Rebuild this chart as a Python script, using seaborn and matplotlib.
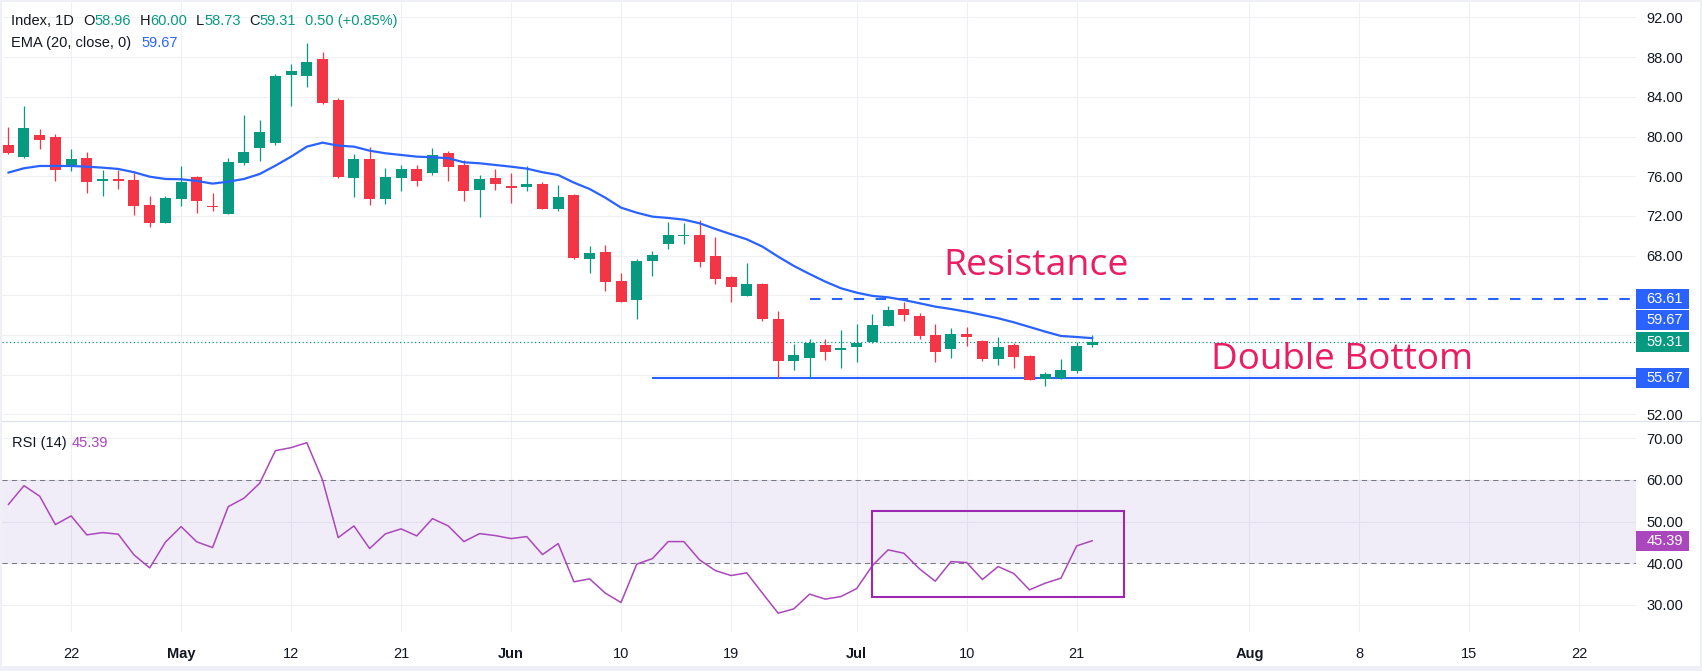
import numpy as np
import pandas as pd
import matplotlib
matplotlib.use('Agg')
from matplotlib import pyplot as plt
from matplotlib.patches import Rectangle
import seaborn as sns

# daily candles, 70 sessions
opens = [79.15, 77.91, 80.16, 79.95, 77.13, 77.84, 75.55, 75.65, 75.62, 73.10,
         71.31, 73.73, 75.92, 72.90, 72.22, 77.36, 78.88, 79.38, 86.23, 86.13,
         87.82, 83.68, 75.85, 77.74, 73.73, 75.85, 76.73, 76.32, 78.34, 77.13,
         74.64, 75.82, 75.01, 74.94, 75.22, 72.70, 74.11, 67.69, 68.36, 65.44,
         63.55, 67.48, 69.20, 69.95, 70.07, 67.96, 65.84, 63.96, 65.14, 61.61,
         57.40, 57.71, 58.99, 58.50, 58.81, 59.32, 60.93, 62.62, 61.91, 59.99,
         58.61, 60.09, 59.39, 57.60, 58.99, 57.88, 55.59, 55.69, 56.36, 58.96]
highs = [80.96, 83.08, 80.76, 80.23, 78.74, 78.41, 76.63, 76.63, 76.29, 74.01,
         74.01, 77.03, 76.05, 74.31, 77.84, 82.17, 81.66, 86.30, 87.31, 89.43,
         88.52, 83.85, 78.24, 78.98, 76.86, 77.13, 77.17, 78.84, 78.54, 77.64,
         76.12, 76.73, 76.32, 77.03, 75.42, 75.12, 74.21, 68.97, 69.07, 66.24,
         67.66, 68.46, 71.39, 71.28, 71.59, 69.87, 65.94, 67.25, 65.24, 62.41,
         59.09, 59.59, 59.59, 60.50, 61.10, 62.11, 62.92, 63.32, 62.18, 61.10,
         60.70, 60.80, 59.49, 59.79, 59.16, 58.01, 56.26, 57.57, 59.29, 60.00]
lows = [78.21, 77.80, 78.77, 75.55, 76.56, 74.34, 74.04, 74.71, 72.12, 70.91,
        71.25, 73.03, 72.32, 72.52, 72.15, 77.10, 77.56, 79.18, 83.11, 85.02,
        83.25, 75.85, 73.94, 73.13, 73.20, 74.51, 75.04, 76.12, 75.55, 73.53,
        71.92, 74.61, 73.33, 74.54, 72.65, 72.49, 67.66, 66.27, 64.46, 63.30,
        61.64, 65.97, 68.69, 69.20, 66.88, 65.17, 63.35, 63.90, 61.44, 55.69,
        56.50, 55.79, 57.50, 56.70, 57.30, 59.16, 60.85, 61.44, 59.56, 57.30,
        57.71, 58.92, 57.40, 57.00, 56.70, 55.43, 54.88, 55.59, 56.19, 58.73]
closes = [78.37, 80.86, 79.68, 76.66, 77.74, 75.45, 75.69, 75.55, 73.03, 71.31,
          73.80, 75.45, 73.53, 72.85, 77.43, 78.44, 80.46, 86.10, 86.64, 87.51,
          83.41, 75.92, 77.74, 73.73, 75.92, 76.73, 75.52, 78.14, 76.96, 74.54,
          75.72, 75.25, 74.84, 75.22, 72.70, 73.91, 67.76, 68.26, 65.37, 63.35,
          67.45, 68.06, 70.07, 70.05, 67.38, 65.67, 64.86, 65.14, 61.64, 57.40,
          57.98, 59.19, 58.31, 58.60, 59.19, 61.00, 62.51, 62.04, 59.92, 58.31,
          60.09, 59.82, 57.60, 58.78, 57.81, 55.49, 56.06, 56.47, 58.89, 59.31]
ema20 = [76.36, 76.80, 77.03, 77.03, 77.03, 76.96, 76.86, 76.73, 76.40, 75.95,
         75.72, 75.69, 75.52, 75.25, 75.45, 75.72, 76.22, 77.06, 77.97, 78.98,
         79.38, 79.08, 78.98, 78.57, 78.31, 78.14, 77.97, 77.91, 77.81, 77.40,
         77.30, 77.13, 76.96, 76.76, 76.40, 76.12, 75.35, 74.71, 73.83, 72.83,
         72.32, 71.92, 71.79, 71.62, 71.25, 70.68, 70.15, 69.64, 68.90, 67.89,
         66.95, 66.14, 65.37, 64.70, 64.26, 63.93, 63.79, 63.52, 63.19, 62.85,
         62.61, 62.34, 62.01, 61.68, 61.27, 60.80, 60.33, 59.89, 59.79, 59.67]
rsi14 = [54.05, 58.60, 56.07, 49.26, 51.34, 46.79, 47.34, 46.95, 41.99, 38.87,
         45.04, 48.78, 45.11, 43.75, 53.57, 55.59, 59.18, 67.00, 67.73, 68.92,
         59.98, 46.14, 48.94, 43.51, 47.03, 48.23, 46.55, 50.70, 48.94, 45.18,
         47.10, 46.62, 45.90, 46.38, 42.06, 44.70, 35.52, 36.24, 32.80, 30.56,
         39.76, 41.10, 45.18, 45.18, 40.79, 38.23, 37.03, 37.67, 32.80, 28.00,
         29.04, 32.57, 31.37, 31.99, 33.91, 39.43, 43.19, 42.39, 38.63, 35.68,
         40.38, 40.14, 36.07, 39.19, 37.51, 33.60, 35.20, 36.40, 44.15, 45.39]

tick_pos = [4, 11, 18, 25, 32, 39, 46, 54, 61, 68, 79, 86, 93, 100]
tick_lab = ['22', 'May', '12', '21', 'Jun', '10', '19', 'Jul', '10', '21', 'Aug', '8', '15', '22']
months = ['May', 'Jun', 'Jul', 'Aug']
price_ticks = [52, 56, 60, 64, 68, 72, 76, 80, 84, 88, 92]
hidden_ticks = [56, 60, 64]   # covered by the value tags
rsi_ticks = [30, 40, 50, 60, 70]

support = 55.67
resistance = 63.61
last_close = 59.31
last_ema = 59.67
last_rsi = 45.39

GREEN = '#089981'
RED = '#f23645'
BLUE = '#2962ff'
PURPLE = '#ab47bc'
TXT = '#131722'
GRID = '#eef0f4'
FONT = 'Liberation Sans'

df = pd.DataFrame({'open': opens, 'high': highs, 'low': lows, 'close': closes,
                   'ema': ema20, 'rsi': rsi14})
df['i'] = np.arange(len(df))

sns.set_style('white')
plt.rcParams['font.family'] = [FONT, 'DejaVu Sans']

W, H = 1702, 671
fig = plt.figure(figsize=(W / 100, H / 100), dpi=100)
fig.patch.set_facecolor('#eef0f6')
fig.patches.append(Rectangle((2 / W, 5.3 / H), 1698 / W, 663.7 / H, transform=fig.transFigure,
                             facecolor='white', edgecolor='none', zorder=-10))


def fx(px):
    return px / W


def fy(py):
    return 1 - py / H


RIGHT = 1636
ax = fig.add_axes([fx(2), fy(421.3), fx(RIGHT) - fx(2), fy(2) - fy(421.3)])
ax2 = fig.add_axes([fx(2), fy(631.5), fx(RIGHT) - fx(2), fy(421.3) - fy(631.5)], sharex=ax)
XMIN, XMAX = -0.4, 103.6
ax.set_xlim(XMIN, XMAX)
ax.set_ylim(51.29, 93.56)
ax2.set_ylim(23.6, 74.05)

for a in (ax, ax2):
    a.set_facecolor('none')
    for s in a.spines.values():
        s.set_visible(False)
    a.yaxis.tick_right()
    a.tick_params(axis='y', length=0, pad=7.7, labelsize=10.5, labelcolor=TXT)
    a.set_xticks(tick_pos)
    a.grid(True, color=GRID, lw=0.8)
    a.set_axisbelow(True)

ax.set_yticks(price_ticks)
ax.set_yticklabels(['' if v in hidden_ticks else f'{v:.2f}' for v in price_ticks])
ax.tick_params(axis='x', length=0, labelbottom=False)
ax2.set_yticks(rsi_ticks)
ax2.set_yticklabels([f'{v:.2f}' for v in rsi_ticks])
ax2.set_xticklabels(tick_lab)
ax2.tick_params(axis='x', length=0, pad=11, labelsize=10.5, labelcolor=TXT)
for lab in ax2.get_xticklabels():
    if lab.get_text() in months:
        lab.set_fontweight('bold')

# candles
up = df['close'] >= df['open']
cols = np.where(up, GREEN, RED)
body_lo = df[['open', 'close']].min(axis=1)
body_h = (df['close'] - df['open']).abs().clip(lower=0.15)
ax.vlines(df['i'], df['low'], df['high'], colors=cols, lw=0.9, zorder=3)
ax.bar(df['i'], body_h, bottom=body_lo, width=0.7, color=cols, lw=0, zorder=4)

# EMA 20
sns.lineplot(x=df['i'], y=df['ema'], ax=ax, color=BLUE, lw=1.6, zorder=5)

# levels
ax.axhline(last_close, color=GREEN, lw=0.9, ls=(0, (1, 2)), zorder=2)
ax.hlines(support, 41, XMAX, color=BLUE, lw=1.5, zorder=2)
ax.hlines(resistance, 51, XMAX, color=BLUE, lw=1.5, ls=(0, (5, 5.5)), zorder=2)

renderer = fig.canvas.get_renderer()


def fit_text(a, x, y, s, width_px):
    t = a.text(x, y, s, ha='center', va='baseline', fontsize=28, color='#e91e63',
               family='Open Sans', zorder=6)
    w = t.get_window_extent(renderer).width
    t.set_fontsize(28 * width_px / w)
    return t


fit_text(ax, 65.4, 66.04, 'Resistance', 185)
fit_text(ax, 84.9, 56.57, 'Double Bottom', 262)

# RSI pane
ax2.axhspan(40, 60, color='#7e57c2', alpha=0.1, lw=0)
ax2.axhline(60, color='#787b86', lw=0.75, ls=(0, (5, 4)))
ax2.axhline(40, color='#787b86', lw=0.75, ls=(0, (5, 4)))
sns.lineplot(x=df['i'], y=df['rsi'], ax=ax2, color=PURPLE, lw=1.1, zorder=5)
ax2.add_patch(Rectangle((54.95, 32.0), 16.05, 20.6, fill=False, ec='#9c27b0', lw=1.5, zorder=6))
for a in (ax, ax2):
    a.set_xlabel('')
    a.set_ylabel('')

# pane separator
fig.add_artist(plt.Line2D([fx(2), fx(1700)], [fy(421.3), fy(421.3)], transform=fig.transFigure,
                          color='#e0e3eb', lw=1))

# right-axis value tags
inv = fig.transFigure.inverted()
tags = [(ax, resistance, BLUE, 0), (ax, last_ema, BLUE, -18), (ax, last_close, GREEN, 0),
        (ax, support, BLUE, 0), (ax2, last_rsi, PURPLE, 0)]
for a, val, c, off in tags:
    ypix = a.transData.transform((0, val))[1] - off
    x0, y0 = inv.transform((RIGHT, ypix - 10))
    x1, y1 = inv.transform((1689, ypix + 10))
    fig.patches.append(Rectangle((x0, y0), x1 - x0, y1 - y0, transform=fig.transFigure,
                                 facecolor=c, edgecolor='none', zorder=5))
    fig.text(fx(1646.5), (y0 + y1) / 2, f'{val:.2f}', ha='left', va='center',
             fontsize=10.5, color='white', zorder=6)


# header texts: runs of label/value placed one after the other
def runs(px, py, parts):
    x = px
    for s, c in parts:
        t = fig.text(fx(x), fy(py), s, ha='left', va='center', fontsize=10.5, color=c)
        x += t.get_window_extent(renderer).width


runs(11, 21, [('Index, 1D', TXT)])
runs(83, 21, [('O', TXT), ('58.96', GREEN)])
runs(140, 21, [('H', TXT), ('60.00', GREEN)])
runs(196, 21, [('L', TXT), ('58.73', GREEN)])
runs(249, 21, [('C', TXT), ('59.31', GREEN)])
runs(304.7, 21, [('0.50 (+0.85%)', GREEN)])
runs(11, 42.7, [('EMA (20, close, 0)', TXT)])
runs(141.7, 42.7, [('59.67', BLUE)])
runs(11.5, 442.7, [('RSI (14)', TXT)])
runs(71.6, 442.7, [('45.39', PURPLE)])

fig.savefig('out.png', dpi=100, facecolor=fig.get_facecolor())
